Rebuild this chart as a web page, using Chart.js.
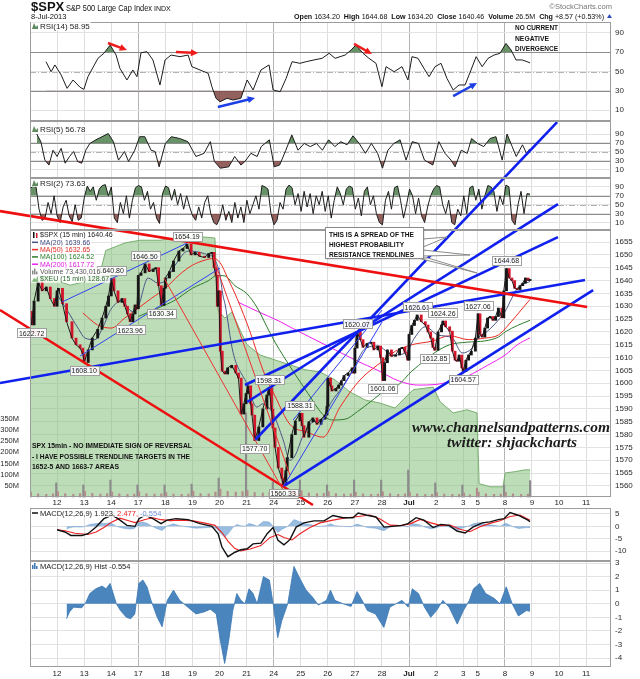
<!DOCTYPE html>
<html>
<head>
<meta charset="utf-8">
<title>$SPX 15 min</title>
<script src="https://cdn.jsdelivr.net/npm/chart.js@4.4.0/dist/chart.umd.min.js"></script>
<style>
  html, body { margin: 0; padding: 0; background: #fff; }
  #wrap { position: relative; width: 640px; height: 679px; }
</style>
</head>
<body>
<div id="wrap"><canvas id="spxChart" width="640" height="679"></canvas></div>
<script>
// SPX 15 min chart: RSI(14) / RSI(5) / RSI(2) / price with MAs, volume, $XEU / MACD / MACD hist

// x = trading days since the Jun 11 open (Jul 3 was a half session)
var dayTicks = [1, 2, 3, 4, 5, 6, 7, 8, 9, 10, 11, 12, 13, 14, 15, 16, 16.54, 17.54, 18.54, 19.54, 20.54];
var dayLabels = ['12', '13', '14', '17', '18', '19', '20', '21', '24', '25', '26', '27', '28', 'Jul', '2', '3', '5', '8', '9', '10', '11'];
var weekStarts = [4, 9, 14, 17.54];

var priceTicks = [1560, 1565, 1570, 1575, 1580, 1585, 1590, 1595, 1600, 1605, 1610, 1615, 1620, 1625, 1630, 1635, 1640, 1645, 1650, 1655];
var rsiTicks = [10, 30, 50, 70, 90];
var macdTicks = [5, 0, -5, -10];
var histTicks = [3, 2, 1, 0, -1, -2, -3, -4];
var volumeTicks = [50, 100, 150, 200, 250, 300, 350];

// [day, close]
var spxClose = [
  [0.00, 1628.0], [0.06, 1622.72], [0.15, 1632.0], [0.30, 1639.5], [0.45, 1636.0], [0.60, 1637.5], [0.75, 1633.0], [0.90, 1630.0],
  [1.00, 1636.0], [1.05, 1637.0], [1.20, 1631.0], [1.35, 1624.0], [1.55, 1617.6], [1.70, 1615.0], [1.85, 1613.7], [1.95, 1611.5],
  [2.00, 1608.10], [2.15, 1613.0], [2.30, 1617.6], [2.50, 1621.0], [2.66, 1625.4], [2.80, 1630.0], [2.90, 1634.0],
  [3.00, 1640.80], [3.10, 1636.0], [3.25, 1631.5], [3.40, 1633.0], [3.50, 1630.0], [3.60, 1627.0], [3.70, 1623.96], [3.80, 1627.0], [3.88, 1630.5], [3.95, 1629.0],
  [4.00, 1642.0], [4.10, 1643.0], [4.25, 1646.50], [4.40, 1643.5], [4.55, 1644.5], [4.65, 1645.0], [4.75, 1638.0], [4.85, 1630.34], [4.95, 1637.0],
  [5.00, 1641.0], [5.15, 1643.5], [5.30, 1647.6], [5.50, 1651.5], [5.65, 1652.5], [5.80, 1654.19], [5.95, 1650.0],
  [6.10, 1651.0], [6.25, 1649.5], [6.45, 1649.0], [6.60, 1650.5], [6.72, 1651.0], [6.80, 1645.0], [6.87, 1642.0], [6.92, 1630.0], [6.97, 1636.0],
  [7.03, 1612.5], [7.10, 1604.7], [7.20, 1603.6], [7.30, 1606.0], [7.45, 1607.0], [7.60, 1604.0], [7.70, 1602.0], [7.80, 1588.0], [7.90, 1592.0], [7.98, 1596.0],
  [8.05, 1599.0], [8.15, 1592.0], [8.20, 1587.6], [8.30, 1577.70], [8.45, 1583.0], [8.60, 1590.0], [8.75, 1595.4], [8.83, 1598.31], [8.92, 1590.0], [8.97, 1582.6],
  [9.05, 1575.0], [9.17, 1567.0], [9.30, 1563.0], [9.35, 1560.33], [9.45, 1566.0], [9.50, 1571.0], [9.67, 1580.0], [9.80, 1585.3], [9.97, 1588.31],
  [10.05, 1583.5], [10.12, 1579.0], [10.30, 1585.0], [10.45, 1586.5], [10.60, 1584.0], [10.75, 1586.0], [10.90, 1587.6], [10.97, 1591.0],
  [11.00, 1602.0], [11.10, 1599.0], [11.15, 1597.0], [11.30, 1598.0], [11.40, 1599.3], [11.50, 1601.0], [11.60, 1603.0], [11.75, 1604.0], [11.90, 1606.0], [11.97, 1604.0],
  [12.00, 1613.7], [12.08, 1620.07], [12.20, 1617.0], [12.30, 1614.0], [12.45, 1615.5], [12.60, 1616.0], [12.70, 1613.0], [12.85, 1614.5], [12.95, 1610.0],
  [13.03, 1601.06], [13.10, 1608.0], [13.20, 1613.0], [13.35, 1610.5], [13.50, 1611.0], [13.65, 1613.5], [13.75, 1614.0], [13.85, 1612.0], [13.95, 1609.0],
  [14.00, 1619.0], [14.10, 1622.5], [14.20, 1624.5], [14.30, 1626.61], [14.45, 1624.0], [14.60, 1622.7], [14.70, 1620.0], [14.80, 1617.6], [14.88, 1614.0], [14.95, 1612.85],
  [15.07, 1620.0], [15.20, 1622.7], [15.25, 1624.26], [15.35, 1622.0], [15.50, 1620.3], [15.60, 1612.5], [15.70, 1609.0], [15.77, 1608.6], [15.85, 1611.0], [15.95, 1606.0],
  [16.00, 1604.57], [16.10, 1609.0], [16.20, 1611.0], [16.30, 1612.5], [16.45, 1617.6], [16.55, 1627.06], [16.62, 1619.0], [16.70, 1618.0], [16.80, 1621.5], [16.90, 1625.4],
  [17.00, 1626.0], [17.10, 1624.5], [17.20, 1626.0], [17.30, 1629.3], [17.43, 1625.5], [17.50, 1636.0], [17.60, 1644.68], [17.70, 1641.0], [17.80, 1640.0], [17.90, 1637.0],
  [18.00, 1636.5], [18.10, 1638.0], [18.20, 1639.0], [18.30, 1641.0], [18.40, 1640.0], [18.47, 1640.46]
];

var ma20 = [
  [1.03, 1634], [1.40, 1628], [1.80, 1621], [2.03, 1617.6], [2.40, 1617], [2.70, 1622], [3.00, 1629], [3.40, 1632], [3.77, 1628], [4.00, 1630],
  [4.36, 1641], [4.73, 1639], [5.00, 1640], [5.36, 1646], [5.84, 1651.5], [6.44, 1650.5], [6.80, 1648.5], [7.00, 1643], [7.13, 1634], [7.20, 1631],
  [7.50, 1612], [8.00, 1600], [8.38, 1590.7], [8.60, 1592], [8.98, 1588], [9.35, 1578], [9.60, 1570], [9.80, 1572], [10.05, 1578.7], [10.40, 1584.5],
  [10.80, 1586.3], [11.15, 1593], [11.50, 1598], [11.90, 1604.7], [12.40, 1613.7], [12.85, 1614.5], [13.40, 1611], [13.90, 1612], [14.20, 1617.6], [14.60, 1622],
  [15.07, 1618.8], [15.60, 1617.6], [15.96, 1611.8], [16.33, 1613.7], [16.55, 1617.6], [16.90, 1620.3], [17.30, 1624.6], [17.55, 1628], [17.80, 1633.2], [18.00, 1637],
  [18.47, 1639.66]
];
var ma50 = [
  [1.95, 1627.4], [2.50, 1622.7], [3.00, 1621.5], [3.50, 1625.4], [4.00, 1629.3], [4.50, 1633.2], [5.00, 1637], [5.50, 1642.1], [6.00, 1646], [6.47, 1648],
  [6.77, 1648.6], [7.02, 1647], [7.30, 1641], [7.65, 1633], [8.13, 1620], [8.61, 1605], [9.05, 1595], [9.60, 1584], [10.23, 1581], [10.82, 1579],
  [11.45, 1590.7], [12.19, 1601.3], [12.93, 1607.9], [13.50, 1612.5], [14.10, 1615], [14.85, 1616.4], [15.50, 1618.5], [16.20, 1617], [16.80, 1617.6], [17.30, 1618.8],
  [17.67, 1622.7], [18.20, 1629.3], [18.47, 1632.65]
];
var ma100 = [
  [4.00, 1626], [4.73, 1629.3], [5.36, 1632.4], [6.00, 1637], [6.60, 1640], [6.90, 1642], [7.20, 1641.8], [7.57, 1638], [8.00, 1635], [8.40, 1629.3],
  [8.75, 1622], [9.05, 1616], [9.70, 1605], [10.27, 1596], [10.80, 1588], [11.15, 1585.7], [11.64, 1586], [12.10, 1589], [12.60, 1593], [13.10, 1597],
  [13.60, 1599.3], [14.10, 1604.7], [14.60, 1609], [14.96, 1612], [15.50, 1615], [16.14, 1616], [16.80, 1616.5], [17.30, 1618], [17.55, 1620], [18.00, 1622.5],
  [18.47, 1624.52]
];
var ma200 = [
  [7.68, 1631.6], [8.40, 1628], [9.24, 1624], [9.68, 1621.5], [10.90, 1615], [12.10, 1608.6], [12.85, 1605], [13.60, 1601], [14.33, 1599.3], [14.96, 1599.5],
  [15.60, 1600.9], [16.20, 1603], [16.90, 1607], [17.55, 1611], [18.00, 1615], [18.47, 1617.72]
];

// volume in millions of shares
var volume = [
  [0.03, 22], [0.3, 14], [0.6, 12], [0.85, 14], [0.97, 63],
  [1.03, 24], [1.3, 15], [1.6, 12], [1.85, 15], [1.97, 54],
  [2.03, 25], [2.3, 16], [2.6, 13], [2.85, 15], [2.97, 76],
  [3.03, 22], [3.3, 14], [3.6, 12], [3.85, 13], [3.97, 54],
  [4.03, 24], [4.3, 15], [4.6, 13], [4.85, 14], [4.97, 54],
  [5.03, 20], [5.3, 13], [5.6, 12], [5.85, 13], [5.97, 58],
  [6.03, 26], [6.3, 15], [6.6, 14], [6.85, 22], [6.97, 85],
  [7.03, 35], [7.3, 25], [7.6, 22], [7.85, 24], [7.98, 377],
  [8.03, 30], [8.3, 20], [8.6, 18], [8.85, 20], [8.97, 67],
  [9.03, 35], [9.3, 22], [9.6, 20], [9.85, 22], [9.97, 76],
  [10.03, 28], [10.3, 18], [10.6, 15], [10.85, 16], [10.97, 54],
  [11.03, 24], [11.3, 15], [11.6, 13], [11.85, 14], [11.97, 76],
  [12.03, 22], [12.3, 14], [12.6, 12], [12.85, 13], [12.97, 76],
  [13.03, 24], [13.3, 15], [13.6, 12], [13.85, 14], [13.97, 121],
  [14.03, 22], [14.3, 14], [14.6, 12], [14.85, 12], [14.97, 63],
  [15.03, 20], [15.3, 13], [15.6, 12], [15.85, 12], [15.97, 54],
  [16.03, 18], [16.25, 10], [16.51, 40],
  [16.57, 22], [16.84, 14], [17.14, 12], [17.39, 13], [17.51, 54],
  [17.57, 22], [17.84, 14], [18.14, 12], [18.39, 13], [18.47, 73.430016]
];

// euro index ($XEU) on its own scale
var xeu = [
  [0.0, 132.87], [0.37, 133.05], [0.92, 132.94], [1.48, 132.82], [2.03, 132.9], [2.59, 133.1], [2.8, 133.6], [3.51, 133.77], [4.06, 133.83], [4.80, 133.83],
  [5.36, 133.88], [5.91, 133.92], [6.46, 133.90], [6.83, 133.88], [6.94, 132.26], [7.2, 132.08], [7.46, 132.22], [7.76, 131.81], [8.02, 131.48], [8.5, 131.25],
  [9.05, 131.14], [9.6, 131.03], [10.16, 130.92], [10.71, 130.87], [11.27, 130.69], [11.82, 130.42], [12.38, 130.24], [12.93, 130.17], [13.48, 130.06], [14.15, 130.47],
  [14.89, 130.53], [15.15, 130.20], [15.63, 129.95], [16.14, 130.02], [16.51, 129.95], [16.59, 128.36], [17.0, 128.29], [17.47, 128.29], [17.55, 128.60], [17.92, 128.63],
  [18.29, 128.67], [18.47, 128.67]
];

var rsi14 = [
  [0.59, 60.2], [0.78, 49.8], [0.92, 56.8], [1.15, 46.4], [1.37, 32.5], [1.59, 41.2], [1.85, 33.6], [1.99, 31.5], [2.14, 44.6], [2.51, 63.7],
  [2.73, 68.9], [2.96, 77.5], [3.18, 67.1], [3.32, 53.3], [3.58, 41.2], [3.80, 51.6], [3.95, 44.6], [4.10, 69.5], [4.32, 70.6], [4.54, 62],
  [4.80, 36], [4.99, 62], [5.21, 67.1], [5.54, 65.4], [5.84, 67.1], [5.98, 55], [6.28, 51.6], [6.58, 48.1], [6.72, 34.2], [6.87, 22.2],
  [7.02, 18.6], [7.28, 22.2], [7.50, 20.4], [7.79, 22.2], [8.02, 41.2], [8.24, 30.8], [8.53, 51.6], [8.83, 56.8], [8.98, 30.8], [9.24, 29],
  [9.46, 42.9], [9.68, 60.2], [9.97, 58.5], [10.20, 60.2], [10.49, 62], [10.79, 63.7], [11.05, 68.9], [11.27, 63.7], [11.64, 67.1], [11.86, 72.3],
  [12.04, 77.5], [12.30, 68.9], [12.52, 63.7], [12.78, 58.5], [13.00, 34.2], [13.15, 55], [13.45, 49.8], [13.74, 55], [13.96, 41.2], [14.11, 65.4],
  [14.33, 63.7], [14.55, 53.3], [14.74, 44.6], [14.96, 55], [15.18, 58.5], [15.40, 42.9], [15.63, 30.8], [15.85, 36], [16.07, 36], [16.29, 51.6],
  [16.48, 65.4], [16.70, 55], [16.92, 63.7], [17.14, 67.1], [17.36, 68.9], [17.58, 79.2], [17.77, 72.3], [17.95, 62], [18.18, 62], [18.36, 60.2],
  [18.47, 58.95]
];

var rsi5 = [
  [0.25, 90], [0.40, 73], [0.55, 32], [0.70, 21], [0.85, 54], [1.00, 40], [1.15, 58], [1.30, 25], [1.46, 40], [1.61, 51],
  [1.76, 29], [1.91, 25], [2.06, 54], [2.21, 69], [2.43, 77], [2.66, 84], [2.89, 91], [3.08, 73], [3.27, 32], [3.49, 51],
  [3.64, 29], [3.87, 54], [4.05, 84], [4.24, 84], [4.47, 54], [4.62, 51], [4.77, 17], [5.00, 69], [5.22, 84], [5.53, 80],
  [5.83, 73], [6.13, 40], [6.43, 47], [6.66, 73], [6.81, 29], [7.03, 14], [7.34, 17], [7.56, 40], [7.79, 21], [7.94, 29],
  [8.16, 47], [8.39, 40], [8.54, 62], [8.84, 77], [9.02, 17], [9.22, 21], [9.45, 54], [9.67, 88], [9.90, 54], [10.13, 69],
  [10.35, 62], [10.58, 69], [10.80, 54], [11.03, 77], [11.26, 62], [11.48, 73], [11.71, 66], [11.93, 86], [12.16, 69], [12.39, 47],
  [12.61, 69], [12.84, 47], [13.02, 14], [13.22, 54], [13.44, 69], [13.67, 77], [13.89, 32], [14.12, 73], [14.35, 69], [14.57, 32],
  [14.88, 21], [15.10, 73], [15.33, 47], [15.55, 32], [15.70, 17], [15.93, 54], [16.15, 47], [16.31, 80], [16.53, 69], [16.76, 62],
  [16.99, 80], [17.21, 84], [17.44, 32], [17.62, 90], [17.81, 62], [17.96, 40], [18.19, 66], [18.34, 47], [18.46, 56.78]
];

// RSI(2) sampled evenly from the first bar to the last
var rsi2 = [
  85, 92, 90, 40, 15, 20, 55, 30, 70, 25, 10, 45, 60, 25, 12, 50, 15, 20, 65, 92,
  80, 90, 60, 85, 93, 95, 70, 90, 20, 10, 55, 30, 70, 20, 60, 88, 93, 90, 60, 80,
  40, 55, 20, 8, 75, 92, 88, 60, 85, 50, 75, 40, 70, 45, 25, 15, 45, 20, 55, 70,
  30, 10, 5, 20, 50, 15, 35, 10, 55, 20, 45, 10, 60, 30, 50, 70, 40, 93, 90, 85,
  30, 5, 15, 55, 40, 85, 94, 88, 50, 75, 35, 80, 45, 75, 30, 70, 50, 80, 35, 70,
  20, 60, 90, 75, 50, 85, 92, 88, 40, 65, 25, 80, 90, 50, 70, 30, 10, 5, 60, 80,
  40, 88, 92, 60, 20, 50, 85, 70, 30, 65, 25, 10, 45, 70, 85, 93, 90, 50, 30, 60,
  10, 5, 40, 25, 70, 30, 88, 92, 60, 85, 40, 70, 93, 90, 80, 35, 70, 50, 94, 90,
  15, 5, 50, 80, 30, 75, 73.63
];
var rsi2First = 0.0, rsi2Last = 18.47;

var macdLine = [
  [1.00, -1.4], [1.29, -2.3], [1.51, -3.7], [1.92, -3.7], [2.14, -3.0], [2.44, -0.3], [2.73, 3.1], [3.03, 4.5], [3.25, 3.1], [3.58, 0.4],
  [3.88, 0.0], [4.03, 3.1], [4.25, 4.5], [4.54, 3.1], [4.84, 1.1], [5.06, 2.5], [5.39, 3.1], [5.84, 2.7], [6.28, 1.1], [6.72, 0.0],
  [6.95, -3.0], [7.09, -8.4], [7.31, -12.3], [7.57, -10.5], [7.79, -9.5], [8.02, -9.1], [8.24, -7.1], [8.53, -6.8], [8.76, -3.0], [8.98, -0.5],
  [9.16, -5.7], [9.38, -7.5], [9.60, -5.4], [9.83, -0.3], [10.12, 1.4], [10.49, 2.2], [10.86, 2.2], [11.19, 4.4], [11.56, 3.5], [11.93, 3.5],
  [12.12, 5.4], [12.45, 4.5], [12.78, 3.8], [13.08, -0.3], [13.37, 0.0], [13.74, 0.4], [13.96, 1.1], [14.26, 3.5], [14.55, 2.5], [14.89, -0.5],
  [15.18, 0.8], [15.48, 0.4], [15.77, -1.9], [16.07, -2.7], [16.36, -0.3], [16.70, 1.4], [16.99, 1.8], [17.29, 2.7], [17.51, 3.1], [17.73, 5.6],
  [18.03, 4.5], [18.36, 2.7], [18.47, 1.923]
];
var macdSignal = [
  [1.00, -1.4], [1.29, -1.8], [1.66, -2.8], [2.14, -3.3], [2.44, -2.3], [2.73, -0.5], [3.03, 1.8], [3.32, 3.3], [3.58, 2.5], [3.88, 1.5],
  [4.25, 2.8], [4.54, 3.5], [4.84, 2.7], [5.17, 2.3], [5.54, 2.5], [5.98, 2.3], [6.46, 1.3], [6.83, 0.4], [7.09, -2.5], [7.31, -6.0],
  [7.57, -9.0], [7.79, -10.0], [8.13, -9.2], [8.53, -7.8], [8.87, -4.5], [9.16, -3.3], [9.38, -4.5], [9.68, -5.5], [9.97, -3.0], [10.34, -0.5],
  [10.71, 1.4], [11.19, 2.5], [11.64, 3.4], [12.12, 4.0], [12.56, 4.6], [12.93, 3.0], [13.30, 0.5], [13.67, 0.3], [14.04, 1.0], [14.41, 2.8],
  [14.78, 1.5], [15.18, 0.3], [15.52, 0.5], [15.88, -1.2], [16.25, -2.2], [16.62, -0.2], [16.99, 1.2], [17.36, 2.3], [17.73, 4.0], [18.10, 4.6],
  [18.47, 2.477]
];
var macdHist = [
  [1.35, -1.1], [1.46, -0.6], [1.61, -0.25], [1.91, -0.3], [2.06, 0.1], [2.21, 0.75], [2.43, 1.1], [2.66, 1.3], [2.81, 1.1], [2.96, 1.5],
  [3.19, 0.0], [3.34, -0.5], [3.56, -1.0], [3.72, -1.1], [3.87, -0.75], [4.02, 1.5], [4.17, 1.75], [4.32, 1.25], [4.47, 0.25], [4.70, -1.0],
  [4.88, -1.7], [5.07, 0.25], [5.30, 1.0], [5.53, 0.25], [5.83, -0.25], [6.13, -0.75], [6.43, -0.6], [6.66, -0.4], [6.88, -0.75], [7.03, -2.7],
  [7.19, -4.4], [7.34, -2.7], [7.49, -0.5], [7.64, 0.75], [7.79, 0.25], [7.94, 0.0], [8.09, 1.1], [8.24, 0.75], [8.39, 0.0], [8.62, 2.0],
  [8.84, 1.75], [9.00, -0.25], [9.15, -2.5], [9.30, -1.25], [9.52, 0.0], [9.75, 2.75], [9.97, 1.85], [10.20, 1.0], [10.43, 0.5], [10.65, -0.1],
  [10.95, 0.25], [11.10, 1.0], [11.26, 0.25], [11.56, 0.0], [11.86, -0.2], [12.08, 0.9], [12.31, 0.1], [12.46, -0.5], [12.76, -0.75], [13.07, -1.75],
  [13.29, -0.25], [13.52, 0.0], [13.74, 0.25], [13.97, -0.25], [14.12, 1.1], [14.35, 0.75], [14.57, -0.25], [14.80, -1.0], [15.02, -0.5], [15.25, 0.25],
  [15.48, -0.25], [15.78, -1.5], [16.01, -0.5], [16.23, 0.25], [16.38, 1.1], [16.61, 1.5], [16.83, 0.75], [17.14, 0.4], [17.36, 0.0], [17.59, 1.25],
  [17.81, 0.0], [18.04, -0.9], [18.34, -0.5], [18.47, -0.554]
];

// labelled swing highs / lows: [day, price, side]
var priceNotes = [
  [0.06, 1622.72, 'down'], [2.00, 1608.10, 'down'], [3.00, 1640.80, 'up'], [3.70, 1623.96, 'down'], [4.25, 1646.50, 'up'],
  [4.85, 1630.34, 'down'], [5.80, 1654.19, 'up'], [8.30, 1577.70, 'down'], [8.83, 1598.31, 'up'], [9.35, 1560.33, 'down'],
  [9.97, 1588.31, 'up'], [12.08, 1620.07, 'up'], [13.03, 1601.06, 'down'], [14.30, 1626.61, 'up'], [14.95, 1612.85, 'down'],
  [15.25, 1624.26, 'up'], [16.00, 1604.57, 'down'], [16.55, 1627.06, 'up'], [17.60, 1644.68, 'up']
];

// trendlines on the price scale: [day0, price0, day1, price1]
var redTrendlines = [[-1.108, 1667.07, 20.58, 1629.69], [-1.108, 1628.52, 10.45, 1552.59]];
var thinRedLines = [[4.95, 1640.98, 9.35, 1558.43], [6.76, 1649.16, 9.60, 1564.27]];
var blueTrendlines = [
  [-1.108, 1600.09, 20.50, 1640.20], [9.38, 1560.0, 20.80, 1636.31],
  [7.94, 1599.32, 19.50, 1656.95], [8.02, 1592.70, 19.50, 1669.80], [8.31, 1577.90, 19.47, 1701.73]
];
var thinBlueLines = [
  [9.72, 1585.69, 13.00, 1628.52], [9.35, 1559.60, 13.00, 1623.85],
  [1.18, 1631.64, 5.80, 1654.61], [1.85, 1610.61, 7.02, 1644.88]
];

// divergence arrows on RSI(14): [day0, rsi0, day1, rsi1]
var rsiRedArrows = [[2.88, 79.6, 3.58, 72.3], [5.39, 70.3, 6.21, 69.2], [11.97, 78.6, 12.63, 68.2]];
var rsiBlueArrows = [[6.94, 13.1, 8.31, 22.5], [15.63, 24.5, 16.51, 38.0]];

// ---------------------------------------------------------------------------
var FONT = '"Liberation Sans", Arial, sans-serif';
var PLOT_TOP = 22, XAXIS_H = 12, CANVAS_H = 679;
var PLOT_BOTTOM = CANVAS_H - XAXIS_H;

// panel heights in pixels, top to bottom (sum = plot height)
var panelH = { rsi14: 99, rsi5: 57, rsi2: 52, price: 267, dates: 11, macd: 53, hist: 106 };
var priceTop = PLOT_TOP + panelH.rsi14 + panelH.rsi5 + panelH.rsi2;
var priceBottom = priceTop + panelH.price;

var XEU_LO = 128.06, XEU_HI = 134.06;
var VOL_HI = 1198;

var RSI_HIGH = 'rgba(78, 128, 78, 0.85)';
var RSI_LOW = 'rgba(128, 70, 66, 0.85)';
var CLEAR = 'rgba(0,0,0,0)';

// stretch a range meant for one band of the price panel over the full plot height
function spanRange(lo, hi, bandTop, bandBottom) {
  var unit = (hi - lo) / (bandBottom - bandTop);
  return { min: lo - (PLOT_BOTTOM - bandBottom) * unit, max: hi + (bandTop - PLOT_TOP) * unit };
}

function pts(pairs) {
  return pairs.map(function (p) { return { x: p[0], y: p[1] }; });
}

function lastOf(pairs) { return pairs[pairs.length - 1][1]; }

function lineSet(pairs, axis, color, width, order, extra) {
  return Object.assign({
    type: 'line', data: pts(pairs), yAxisID: axis, borderColor: color, borderWidth: width,
    pointRadius: 0, fill: false, order: order
  }, extra || {});
}

function rsiSets(pairs, axis) {
  return [
    lineSet(pairs, axis, '#1c1c1c', 1, 3, { fill: { target: { value: 70 }, above: RSI_HIGH, below: CLEAR } }),
    lineSet(pairs, axis, CLEAR, 0, 4, { fill: { target: { value: 30 }, above: CLEAR, below: RSI_LOW } })
  ];
}

function segmentSets(list, color, width) {
  return list.map(function (s) {
    return lineSet([[s[0], s[1]], [s[2], s[3]]], 'price', color, width, 1, { clip: false });
  });
}

var rsi2Step = (rsi2Last - rsi2First) / (rsi2.length - 1);
var rsi2Pairs = rsi2.map(function (v, i) { return [rsi2First + i * rsi2Step, v]; });

var candleBodies = spxClose.map(function (p, i) {
  var prev = i > 0 ? spxClose[i - 1][1] : p[1];
  return { x: p[0], y: [prev, p[1]] };
});

var datasets = [].concat(
  [lineSet(xeu, 'xeu', 'rgba(110, 168, 100, 0.9)', 1, 30, {
    fill: { target: { value: XEU_LO } }, backgroundColor: 'rgba(128, 188, 118, 0.52)'
  })],
  [{
    type: 'bar', data: pts(volume), yAxisID: 'vol', order: 29, grouped: false, barThickness: 1.5,
    backgroundColor: function (c) { return c.raw && c.raw.y > 40 ? '#8c8c8c' : '#b48c8c'; }
  }],
  [
    lineSet(ma200, 'price', '#f01ef0', 1, 14, { cubicInterpolationMode: 'monotone' }),
    lineSet(ma100, 'price', '#2c7c2c', 1, 13, { cubicInterpolationMode: 'monotone' }),
    lineSet(ma50, 'price', '#ee2a22', 1, 12, { cubicInterpolationMode: 'monotone' }),
    lineSet(ma20, 'price', '#4a5585', 1, 11, { cubicInterpolationMode: 'monotone' })
  ],
  [{
    type: 'bar', data: candleBodies, yAxisID: 'price', order: 9, grouped: false, barThickness: 2.2,
    backgroundColor: function (c) { return c.raw && c.raw.y[1] < c.raw.y[0] ? '#d4162b' : '#141414'; }
  }],
  [lineSet(spxClose, 'price', '#1a1a1a', 1, 8)],
  segmentSets(thinRedLines, '#ee3030', 1),
  segmentSets(thinBlueLines, '#3040f0', 1),
  segmentSets(redTrendlines, '#ee1010', 2.6),
  segmentSets(blueTrendlines, '#1020ee', 2.6),
  rsiSets(rsi14, 'rsi14'),
  rsiSets(rsi5, 'rsi5'),
  rsiSets(rsi2Pairs, 'rsi2'),
  [
    lineSet(macdHist, 'macd', 'rgba(100, 150, 205, 0.9)', 0.5, 7, { fill: 'origin', backgroundColor: 'rgba(110, 160, 212, 0.7)' }),
    lineSet(macdSignal, 'macd', '#ee2222', 1.1, 6),
    lineSet(macdLine, 'macd', '#111', 1.4, 5),
    lineSet(macdHist, 'hist', '#3a76b2', 0.8, 7, { fill: 'origin', backgroundColor: '#4a85bd' })
  ]
);

function fixedTicks(values) {
  return function (s) { s.ticks = values.map(function (v) { return { value: v }; }); };
}

function panelAxis(order, name, min, max, ticks) {
  return {
    type: 'linear', position: 'right', stack: 'panels', stackWeight: panelH[name], weight: order,
    min: min, max: max,
    afterBuildTicks: fixedTicks(ticks),
    afterFit: function (s) { s.width = 29; },
    ticks: {
      display: ticks.length > 0, autoSkip: false, padding: 4, color: '#2a2a2a',
      font: { family: FONT, size: 8 },
      callback: function (v) { return String(v); }
    },
    grid: { display: ticks.length > 0, drawTicks: false, color: '#e3e3e3' },
    border: { display: false }
  };
}

var xeuRange = spanRange(XEU_LO, XEU_HI, priceTop, priceBottom);
var volRange = spanRange(0, VOL_HI, priceTop, priceBottom);

var scales = {
  x: {
    type: 'linear', position: 'bottom', min: 0, max: 21.46, offset: false,
    afterBuildTicks: fixedTicks(dayTicks),
    afterFit: function (s) { s.height = XAXIS_H; },
    ticks: {
      autoSkip: false, maxRotation: 0, padding: 2, color: '#222',
      font: function (c) { return { family: FONT, size: 8, weight: c.index === 13 ? 'bold' : 'normal' }; },
      callback: function (v, i) { return dayLabels[i]; }
    },
    grid: {
      offset: false, drawTicks: false,
      color: function (c) { return c.tick && weekStarts.indexOf(c.tick.value) >= 0 ? '#b4b4b4' : '#dedede'; }
    },
    border: { display: false }
  },
  rsi14: panelAxis(1, 'rsi14', -1.4, 101.4, rsiTicks),
  rsi5: panelAxis(2, 'rsi5', -7.8, 118.9, rsiTicks),
  rsi2: panelAxis(3, 'rsi2', -6.7, 109.9, rsiTicks),
  price: panelAxis(4, 'price', 1555.7, 1659.7, priceTicks),
  dates: panelAxis(5, 'dates', 0, 1, []),
  macd: panelAxis(6, 'macd', -14.05, 7.43, macdTicks),
  hist: panelAxis(7, 'hist', -4.66, 3.15, histTicks),
  vol: {
    type: 'linear', position: 'left', min: volRange.min, max: volRange.max,
    afterBuildTicks: fixedTicks(volumeTicks),
    afterFit: function (s) { s.width = 30; },
    ticks: {
      autoSkip: false, padding: 3, color: '#2a2a2a', font: { family: FONT, size: 7.5 },
      callback: function (v) { return v + 'M'; }
    },
    grid: { display: false },
    border: { display: false }
  },
  xeu: { type: 'linear', position: 'left', display: false, min: xeuRange.min, max: xeuRange.max }
};

// ---------------------------------------------------------------------------
function strokeLine(ctx, x0, y0, x1, y1) {
  ctx.beginPath(); ctx.moveTo(x0, y0); ctx.lineTo(x1, y1); ctx.stroke();
}

// draw text squeezed or stretched to an exact width
function fitText(ctx, text, x, y, width) {
  var w = ctx.measureText(text).width;
  ctx.save();
  ctx.translate(x, y);
  ctx.scale(width / w, 1);
  ctx.fillText(text, 0, 0);
  ctx.restore();
}

function drawArrow(ctx, x0, y0, x1, y1, color) {
  var a = Math.atan2(y1 - y0, x1 - x0), head = 8;
  ctx.strokeStyle = color; ctx.fillStyle = color; ctx.lineWidth = 2.5;
  strokeLine(ctx, x0, y0, x1 - Math.cos(a) * head * 0.7, y1 - Math.sin(a) * head * 0.7);
  ctx.beginPath();
  ctx.moveTo(x1, y1);
  ctx.lineTo(x1 - head * Math.cos(a - 0.45), y1 - head * Math.sin(a - 0.45));
  ctx.lineTo(x1 - head * Math.cos(a + 0.45), y1 - head * Math.sin(a + 0.45));
  ctx.closePath();
  ctx.fill();
}

function drawNote(ctx, x, y, text) {
  ctx.font = '7px ' + FONT;
  var w = Math.round(ctx.measureText(text).width + 4);
  var left = Math.round(x - w / 2), top = Math.round(y - 4.5);
  ctx.fillStyle = 'rgba(255,255,255,0.92)';
  ctx.fillRect(left, top, w, 9);
  ctx.strokeStyle = '#a0a0a0'; ctx.lineWidth = 1;
  ctx.strokeRect(left + 0.5, top + 0.5, w, 9);
  ctx.fillStyle = '#222'; ctx.textAlign = 'center'; ctx.textBaseline = 'middle';
  ctx.fillText(text, x, y + 1);
}

// panel caption: icon plus coloured text runs
function drawCaption(ctx, x, y, icon, runs, size) {
  ctx.font = size + 'px ' + FONT;
  var width = runs.reduce(function (s, r) { return s + ctx.measureText(r[0]).width; }, 0);
  ctx.fillStyle = 'rgba(255,255,255,0.8)';
  ctx.fillRect(x - 1, y - 4, width + 10, 8);
  icon(ctx, x, y);
  var cx = x + 8;
  ctx.textAlign = 'left'; ctx.textBaseline = 'middle';
  runs.forEach(function (r) {
    ctx.fillStyle = r[1];
    ctx.fillText(r[0], cx, y + 0.5);
    cx += ctx.measureText(r[0]).width;
  });
}

function dashIcon(color) {
  return function (ctx, x, y) {
    ctx.strokeStyle = color; ctx.lineWidth = 1.5;
    strokeLine(ctx, x, y, x + 6, y);
  };
}

function mountainIcon(ctx, x, y) {
  ctx.fillStyle = '#5e8c5e';
  ctx.beginPath();
  ctx.moveTo(x, y + 3); ctx.lineTo(x + 2, y - 3); ctx.lineTo(x + 4, y + 1); ctx.lineTo(x + 6, y - 1); ctx.lineTo(x + 6, y + 3);
  ctx.closePath(); ctx.fill();
}

function barsIcon(color) {
  return function (ctx, x, y) {
    ctx.fillStyle = color;
    ctx.fillRect(x, y - 1, 1.5, 4); ctx.fillRect(x + 2, y - 3, 1.5, 6); ctx.fillRect(x + 4, y, 1.5, 3);
  };
}

function candleIcon(ctx, x, y) {
  ctx.fillStyle = '#111'; ctx.fillRect(x + 1, y - 3, 1.5, 6);
  ctx.fillStyle = '#d4162b'; ctx.fillRect(x + 4, y - 2, 1.5, 5);
}

function areaIcon(ctx, x, y) {
  ctx.fillStyle = '#7fb878';
  ctx.beginPath();
  ctx.moveTo(x, y + 3); ctx.lineTo(x + 2, y - 1); ctx.lineTo(x + 4, y + 1); ctx.lineTo(x + 6, y - 3); ctx.lineTo(x + 6, y + 3);
  ctx.closePath(); ctx.fill();
}

function fmt(v) { return v.toFixed(2); }

function drawHeader(ctx) {
  ctx.textAlign = 'left'; ctx.textBaseline = 'alphabetic'; ctx.fillStyle = '#111';
  ctx.font = 'bold 13px ' + FONT; ctx.fillText('$SPX', 31, 11);
  ctx.font = '9px ' + FONT; fitText(ctx, 'S&P 500 Large Cap Index', 66, 11, 86);
  ctx.font = '7px ' + FONT; ctx.fillText('INDX', 154, 11);
  ctx.font = '7.5px ' + FONT; ctx.fillText('8-Jul-2013', 31, 19);
  ctx.fillStyle = '#777'; ctx.textAlign = 'right'; ctx.fillText('\u00a9StockCharts.com', 612, 9);

  var close = lastOf(spxClose);
  var runs = [
    ['Open ', true], ['1634.20  ', false], ['High ', true], ['1644.68  ', false], ['Low ', true], ['1634.20  ', false],
    ['Close ', true], [fmt(close) + '  ', false], ['Volume ', true], ['26.5M  ', false], ['Chg ', true], ['+8.57 (+0.53%)', false]
  ];
  var fonts = { true: 'bold 7.5px ' + FONT, false: '7.5px ' + FONT };
  var total = runs.reduce(function (s, r) { ctx.font = fonts[r[1]]; return s + ctx.measureText(r[0]).width; }, 0);
  var sx = 310 / total;
  ctx.save();
  ctx.translate(294, 19);
  ctx.scale(sx, 1);
  ctx.textAlign = 'left'; ctx.fillStyle = '#111';
  var cx = 0;
  runs.forEach(function (r) {
    ctx.font = fonts[r[1]];
    ctx.fillText(r[0], cx, 0);
    cx += ctx.measureText(r[0]).width;
  });
  ctx.restore();
  ctx.fillStyle = '#3050c0';
  ctx.beginPath(); ctx.moveTo(607, 18); ctx.lineTo(612, 18); ctx.lineTo(609.5, 14); ctx.closePath(); ctx.fill();
}

var panelDecor = {
  id: 'panelDecor',
  beforeDatasetsDraw: function (chart) {
    var ctx = chart.ctx, a = chart.chartArea, s = chart.scales;
    ctx.save();
    // the date row between the price and MACD panels has no grid
    ctx.fillStyle = '#fff';
    ctx.fillRect(a.left, s.dates.top, a.right - a.left, s.dates.bottom - s.dates.top);
    // RSI overbought / oversold guides and the dash-dot midline
    ['rsi14', 'rsi5', 'rsi2'].forEach(function (id) {
      var sc = s[id];
      ctx.setLineDash([]); ctx.strokeStyle = '#8c8c8c'; ctx.lineWidth = 1;
      [30, 70].forEach(function (v) {
        var y = Math.round(sc.getPixelForValue(v)) + 0.5;
        strokeLine(ctx, a.left, y, a.right, y);
      });
      ctx.setLineDash([6, 2, 1, 2]); ctx.strokeStyle = '#b2b2b2';
      var y50 = Math.round(sc.getPixelForValue(50)) + 0.5;
      strokeLine(ctx, a.left, y50, a.right, y50);
    });
    ctx.restore();
  },
  afterDatasetsDraw: function (chart) {
    var ctx = chart.ctx, a = chart.chartArea, s = chart.scales, x = s.x;
    ctx.save();

    // price notes on swing highs and lows
    priceNotes.forEach(function (n) {
      var px = x.getPixelForValue(n[0]);
      var py = s.price.getPixelForValue(n[1]) + (n[2] === 'up' ? -8 : 8);
      drawNote(ctx, px, py, n[1].toFixed(2));
    });

    // RSI(14) divergence arrows
    rsiRedArrows.forEach(function (r) {
      drawArrow(ctx, x.getPixelForValue(r[0]), s.rsi14.getPixelForValue(r[1]), x.getPixelForValue(r[2]), s.rsi14.getPixelForValue(r[3]), '#ee1b1b');
    });
    rsiBlueArrows.forEach(function (r) {
      drawArrow(ctx, x.getPixelForValue(r[0]), s.rsi14.getPixelForValue(r[1]), x.getPixelForValue(r[2]), s.rsi14.getPixelForValue(r[3]), '#1d3fe6');
    });

    // panel frames
    ctx.strokeStyle = '#9c9c9c'; ctx.lineWidth = 1; ctx.setLineDash([]);
    ['rsi14', 'rsi5', 'rsi2', 'price', 'macd', 'hist'].forEach(function (id) {
      var sc = s[id];
      ctx.strokeRect(a.left + 0.5, Math.round(sc.top) + 0.5, a.right - a.left - 1, Math.round(sc.bottom - sc.top) - 1);
    });

    // dates between price and MACD
    ctx.fillStyle = '#222'; ctx.textAlign = 'center'; ctx.textBaseline = 'middle';
    dayTicks.forEach(function (d, i) {
      ctx.font = (i === 13 ? 'bold ' : '') + '8px ' + FONT;
      ctx.fillText(dayLabels[i], x.getPixelForValue(d), (s.dates.top + s.dates.bottom) / 2 + 0.5);
    });

    // panel captions
    drawCaption(ctx, 32, s.rsi14.top + 4, mountainIcon, [['RSI(14) ' + fmt(lastOf(rsi14)), '#222']], 8);
    drawCaption(ctx, 32, s.rsi5.top + 8, mountainIcon, [['RSI(5) ' + fmt(lastOf(rsi5)), '#222']], 8);
    drawCaption(ctx, 32, s.rsi2.top + 5, mountainIcon, [['RSI(2) ' + fmt(rsi2[rsi2.length - 1]), '#222']], 8);
    var macdRuns = [
      ['MACD(12,26,9) ' + lastOf(macdLine).toFixed(3) + ', ', '#222'],
      [lastOf(macdSignal).toFixed(3) + ', ', '#ee2222'],
      [lastOf(macdHist).toFixed(3), '#6f8fd8']
    ];
    drawCaption(ctx, 32, s.macd.top + 5, dashIcon('#111'), macdRuns, 7.5);
    drawCaption(ctx, 32, s.hist.top + 5, barsIcon('#3a76b2'), [['MACD(12,26,9) Hist ' + lastOf(macdHist).toFixed(3), '#222']], 7.5);

    var volLast = Math.round(lastOf(volume) * 1e6).toLocaleString('en-US');
    var legend = [
      [candleIcon, '$SPX (15 min) ' + fmt(lastOf(spxClose)), '#1a1a1a'],
      [dashIcon('#4a5585'), 'MA(20) ' + fmt(lastOf(ma20)), '#3c4678'],
      [dashIcon('#ee2a22'), 'MA(50) ' + fmt(lastOf(ma50)), '#e02a22'],
      [dashIcon('#2c7c2c'), 'MA(100) ' + fmt(lastOf(ma100)), '#2c7c2c'],
      [dashIcon('#f01ef0'), 'MA(200) ' + fmt(lastOf(ma200)), '#e01ee0'],
      [barsIcon('#888'), 'Volume ' + volLast, '#555'],
      [areaIcon, '$XEU (15 min) ' + fmt(lastOf(xeu)), '#2d6b2d']
    ];
    legend.forEach(function (row, i) {
      drawCaption(ctx, 32, s.price.top + 5 + i * 7.3, row[0], [[row[1], row[2]]], 7);
    });

    // annotations
    ctx.fillStyle = '#111'; ctx.textAlign = 'left'; ctx.textBaseline = 'alphabetic';
    ctx.font = 'bold 8px ' + FONT;
    fitText(ctx, 'NO CURRENT', 515, 30, 43);
    fitText(ctx, 'NEGATIVE', 515, 40.5, 34);
    fitText(ctx, 'DIVERGENCE', 515, 51, 43);

    fitText(ctx, 'SPX 15min - NO IMMEDIATE SIGN OF REVERSAL', 32, 448, 160);
    fitText(ctx, '- I HAVE POSSIBLE TRENDLINE TARGETS IN THE', 32, 458.5, 158);
    fitText(ctx, '1652-5 AND 1663-7 AREAS', 32, 469, 87);

    // callout box with pointers
    ctx.fillStyle = '#fff'; ctx.strokeStyle = '#8a8a8a'; ctx.lineWidth = 1;
    [[423, 239, 423, 247, 447, 237], [423, 250, 423, 256, 470, 255], [418, 258, 428, 258, 477, 273]].forEach(function (t) {
      ctx.beginPath(); ctx.moveTo(t[0], t[1]); ctx.lineTo(t[4], t[5]); ctx.lineTo(t[2], t[3]); ctx.closePath();
      ctx.fill(); ctx.stroke();
    });
    ctx.shadowColor = 'rgba(0,0,0,0.25)'; ctx.shadowOffsetX = 1; ctx.shadowOffsetY = 1; ctx.shadowBlur = 2;
    ctx.fillRect(325, 227, 98, 31);
    ctx.shadowColor = CLEAR;
    ctx.strokeRect(325.5, 227.5, 98, 31);
    ctx.fillStyle = '#111'; ctx.font = 'bold 8px ' + FONT;
    fitText(ctx, 'THIS IS A SPREAD OF THE', 329, 237, 85);
    fitText(ctx, 'HIGHEST PROBABILITY', 329, 247, 75);
    fitText(ctx, 'RESISTANCE TRENDLINES', 329, 257, 85);

    // site watermark
    ctx.fillStyle = '#1c1c1c';
    ctx.font = 'italic bold 14px "Liberation Serif", "DejaVu Serif", serif';
    fitText(ctx, 'www.channelsandpatterns.com', 412, 432, 198);
    fitText(ctx, 'twitter: shjackcharts', 447, 447, 130);

    ctx.restore();
  },
  afterDraw: function (chart) {
    var ctx = chart.ctx;
    ctx.save();
    drawHeader(ctx);
    ctx.restore();
  }
};

Chart.defaults.font.family = FONT;
Chart.defaults.font.size = 8;

var spxChart = new Chart(document.getElementById('spxChart'), {
  type: 'line',
  data: { datasets: datasets },
  options: {
    responsive: false,
    animation: false,
    devicePixelRatio: 1,
    events: [],
    layout: { padding: { top: PLOT_TOP, left: 0, right: 0, bottom: 0 }, autoPadding: false },
    plugins: { legend: { display: false }, tooltip: { enabled: false } },
    elements: { point: { radius: 0 }, line: { tension: 0 } },
    scales: scales
  },
  plugins: [panelDecor]
});
</script>
</body>
</html>
